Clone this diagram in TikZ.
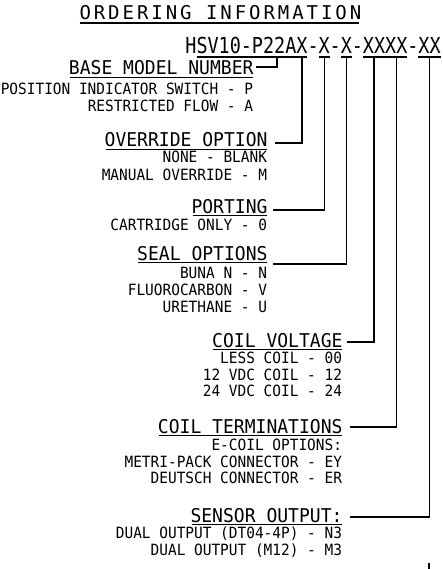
\documentclass[tikz,border=0pt]{standalone}
\usepackage{fontspec}
\newfontfamily\bodyfont{DejaVu Sans Mono}[FakeStretch=0.932]
\newfontfamily\headfont{DejaVu Sans Mono}[FakeStretch=0.949]
\newfontfamily\titlefont{DejaVu Sans Mono}[LetterSpace=15.5]
\newfontfamily\codefont{DejaVu Sans Mono}[FakeStretch=0.838]
\tikzset{
  txt/.style={inner sep=0pt, outer sep=0pt, anchor=base east, font=\bodyfont\fontsize{15.5pt}{17pt}\selectfont},
  head/.style={inner sep=0pt, outer sep=0pt, anchor=base east, font=\headfont\fontsize{19pt}{21pt}\selectfont},
  codech/.style={inner sep=0pt, outer sep=0pt, anchor=base west, font=\codefont\fontsize{22pt}{25pt}\selectfont},
  titletxt/.style={inner sep=0pt, outer sep=0pt, anchor=base west, font=\titlefont\fontsize{19pt}{21pt}\selectfont},
  conn/.style={line width=1.2pt},
  ul/.style={line width=1.5pt},
}
\begin{document}
\begin{tikzpicture}[x=1pt,y=-1pt]
\fill[white] (0,0) rectangle (443,569);
\useasboundingbox (0,0) rectangle (443,569);

% title
\node[titletxt] (title) at (79.5,20) {ORDERING INFORMATION};
\draw[ul] ([yshift=-3pt]title.base west) -- ([yshift=-3pt,xshift=-2.5pt]title.base east);

% part number code
\node[codech] (cH) at (185.4,54) {H};
\node[codech] (cA) at (cH.base east) {SV10-P22A};
\node[codech] (x1) at (cA.base east) {X};
\node[codech] (d1) at (x1.base east) {-};
\node[codech] (x2) at (d1.base east) {X};
\node[codech] (d2) at (x2.base east) {-};
\node[codech] (x3) at (d2.base east) {X};
\node[codech] (d3) at (x3.base east) {-};
\node[codech] (x4) at (d3.base east) {XXXX};
\node[codech] (d4) at (x4.base east) {-};
\node[codech] (x5) at (d4.base east) {XX};
\foreach \n in {cA,x1,x2,x3,x4,x5}
  \draw[conn] ([yshift=-3pt]\n.base west) -- ([yshift=-3pt]\n.base east);

% headings
\node[head] (hBase) at (253.5,75) {BASE MODEL NUMBER};
\node[head] (hOver) at (267.5,147) {OVERRIDE OPTION};
\node[head] (hPort) at (267.5,213) {PORTING};
\node[head] (hSeal) at (267.5,260) {SEAL OPTIONS};
\node[head] (hVolt) at (342.5,347) {COIL VOLTAGE};
\node[head] (hTerm) at (342.5,433) {COIL TERMINATIONS};
\node[head] (hSens) at (342.5,522) {SENSOR OUTPUT:};
\foreach \n in {hBase,hOver,hPort,hSeal,hVolt,hTerm,hSens}
  \draw[ul] ([yshift=-2.5pt,xshift=1pt]\n.base west) -- ([yshift=-2.5pt,xshift=-1pt]\n.base east);

% option lines
\node[txt] (b1) at (253,95) {POSITION INDICATOR SWITCH - P};
\node[txt] (b2) at (253,112) {RESTRICTED FLOW - A};
\node[txt] (o1) at (267,163) {NONE - BLANK};
\node[txt] (o2) at (267,181) {MANUAL OVERRIDE - M};
\node[txt] (p1) at (267,230) {CARTRIDGE ONLY - 0};
\node[txt] (s1) at (267,278) {BUNA N - N};
\node[txt] (s2) at (267,295) {FLUOROCARBON - V};
\node[txt] (s3) at (267,312) {URETHANE - U};
\node[txt] (v1) at (342,363) {LESS COIL - 00};
\node[txt] (v2) at (342,380) {12 VDC COIL - 12};
\node[txt] (v3) at (342,396) {24 VDC COIL - 24};
\node[txt] (t1) at (342,450) {E-COIL OPTIONS:};
\node[txt] (t2) at (342,467) {METRI-PACK CONNECTOR - EY};
\node[txt] (t3) at (342,483) {DEUTSCH CONNECTOR - ER};
\node[txt] (n1) at (342,538) {DUAL OUTPUT (DT04-4P) - N3};
\node[txt] (n2) at (342,555) {DUAL OUTPUT (M12) - M3};

% connector ends
\coordinate (eBase) at (256,67);
\coordinate (eOver) at (275,143);
\coordinate (ePort) at (273,210);
\coordinate (eSeal) at (273,264);
\coordinate (eVolt) at (347,342);
\coordinate (eTerm) at (350,427);
\coordinate (eSens) at (350,517);

% connectors
\draw[conn] ([xshift=80.5pt,yshift=-3pt]cA.base west) |- (eBase);
\draw[conn] ([yshift=-3pt]x1.base) |- (eOver);
\draw[conn] ([yshift=-3pt]x2.base) |- (ePort);
\draw[conn] ([yshift=-3pt]x3.base) |- (eSeal);
\draw[conn] ([xshift=11.1pt,yshift=-3pt]x4.base west) |- (eVolt);
\draw[conn] ([xshift=-11.1pt,yshift=-3pt]x4.base east) |- (eTerm);
\draw[conn] ([yshift=-3pt]x5.base) |- (eSens);

% bottom tick
\coordinate (k1) at (429,563);
\coordinate (k2) at (429,569);
\draw[conn] (k1) -- (k2);
\end{tikzpicture}
\end{document}
